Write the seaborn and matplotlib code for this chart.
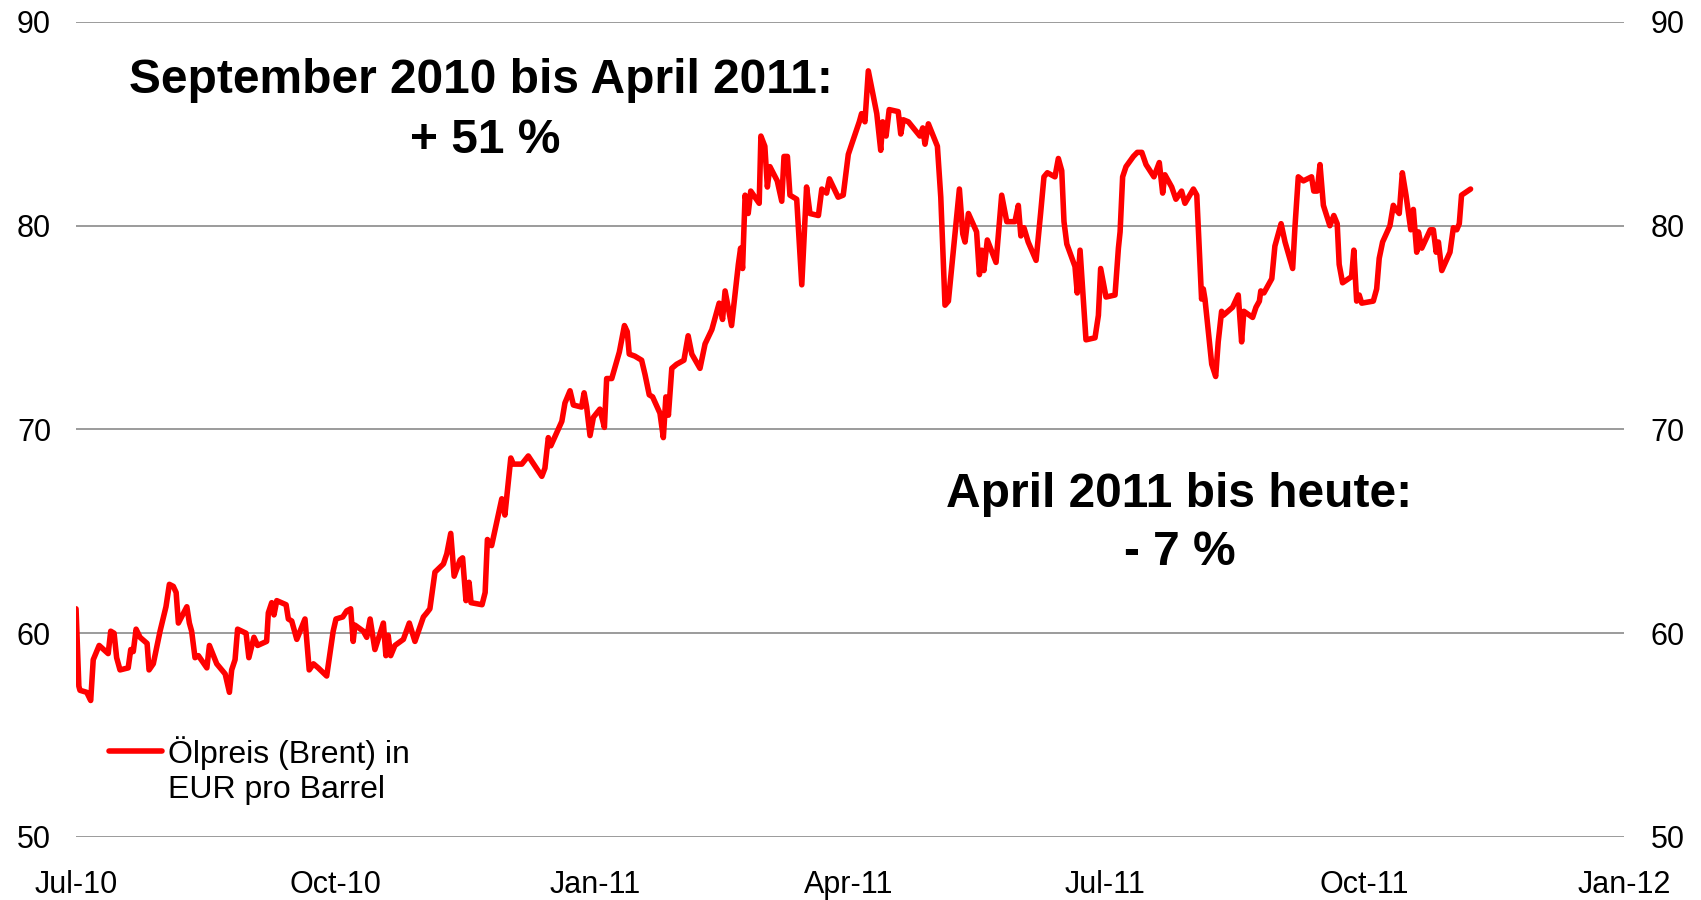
import pandas as pd
import matplotlib
matplotlib.use('Agg')
import matplotlib.pyplot as plt
import matplotlib.dates as mdates
import seaborn as sns

# Brent in EUR: Tage seit 1. Juli 2010 und Preis
tage = [0, 1.0, 1.4, 3.8, 5.2, 6.1, 8.2, 11.4, 12.3, 13.5, 14.4, 15.6, 18.5, 19.4, 20.3,
        21.3, 22.7, 25.2, 25.9, 27.4, 29.8, 31.9, 33.1, 34.5, 35.5, 36.3, 39.3, 40.2, 41.0,
        42.2, 43.4, 46.4, 47.3, 49.9, 52.9, 54.4, 55.2, 56.4, 57.3, 60.3, 61.3, 63.1, 64.4,
        67.6, 68.2, 69.4, 70.2, 71.2, 74.5, 75.3, 76.5, 78.3, 81.2, 82.7, 84.2, 85.9, 88.9,
        91.2, 92.2, 94.6, 96.0, 97.4, 98.3, 98.9, 101.9, 103.1, 104.3, 106.0, 109.0, 109.9,
        110.7, 111.6, 113.1, 116.1, 118.2, 120.2, 123.2, 124.4, 125.5, 127.3, 130.3, 131.5,
        132.9, 134.1, 136.2, 137.1, 138.3, 139.4, 140.1, 144.0, 145.1, 145.9, 147.4, 151.0,
        152.1, 154.2, 155.1, 158.1, 160.4, 165.2, 166.3, 167.5, 168.4, 172.3, 173.4, 175.2,
        176.4, 179.3, 180.2, 181.1, 182.3, 183.5, 185.8, 187.4, 188.2, 190.0, 192.7, 194.5,
        195.5, 196.2, 198.2, 200.6, 201.8, 203.3, 204.5, 207.1, 208.3, 209.2, 210.1, 211.3,
        213.0, 215.6, 217.1, 218.4, 221.3, 223.1, 225.5, 228.1, 229.3, 230.2, 232.5, 234.9,
        235.7, 236.4, 237.3, 238.4, 239.3, 242.3, 242.9, 244.3, 245.2, 246.1, 248.7, 250.3,
        251.1, 252.3, 253.2, 255.6, 257.4, 259.1, 260.3, 263.3, 264.5, 266.2, 267.2, 270.3,
        272.1, 273.9, 275.1, 277.8, 278.6, 279.8, 281.0, 284.0, 285.4, 286.1, 287.3, 288.4,
        291.6, 292.5, 293.4, 295.2, 299.3, 300.3, 301.1, 302.3, 305.5, 306.7, 308.2, 309.4,
        313.3, 314.5, 315.3, 316.5, 319.4, 320.4, 321.2, 322.0, 323.2, 326.3, 328.3, 330.1,
        333.0, 334.2, 335.1, 336.2, 337.7, 340.5, 342.1, 343.3, 344.5, 347.2, 348.4, 349.6,
        350.4, 351.4, 354.3, 355.1, 356.1, 358.2, 361.4, 362.6, 363.4, 365.3, 368.5, 369.7,
        370.3, 371.2, 372.4, 375.0, 376.4, 378.0, 379.5, 382.3, 384.2, 385.4, 386.2, 388.6,
        390.1, 392.1, 393.3, 396.3, 397.5, 399.2, 399.8, 400.4, 402.8, 404.2, 405.1, 406.3,
        406.9, 410.2, 412.2, 413.4, 414.2, 417.3, 418.5, 419.7, 420.2, 421.3, 424.1, 425.2,
        427.4, 428.8, 431.5, 432.3, 433.5, 435.3, 438.2, 439.0, 440.2, 441.2, 442.4, 444.7,
        446.1, 447.3, 448.0, 449.2, 452.4, 453.2, 454.2, 455.1, 456.0, 460.1, 461.3, 462.2,
        463.4, 466.0, 467.2, 468.1, 469.3, 470.4, 471.7, 473.4, 474.3, 475.5, 476.1, 477.3,
        480.3, 481.4, 482.4, 483.2, 484.4, 487.3, 488.5, 489.7, 490.6, 491.4, 494.6]

preis = [61.2, 57.4, 57.2, 57.1, 56.7, 58.7, 59.4, 59.0, 60.1, 60.0, 58.8, 58.2, 58.3, 59.2, 59.1,
         60.2, 59.8, 59.5, 58.2, 58.5, 60.1, 61.3, 62.4, 62.3, 62.0, 60.5, 61.3, 60.5, 60.1,
         58.8, 58.9, 58.3, 59.4, 58.5, 58.0, 57.1, 58.2, 58.7, 60.2, 60.0, 58.8, 59.8, 59.4,
         59.6, 61.0, 61.5, 60.9, 61.6, 61.4, 60.7, 60.6, 59.7, 60.7, 58.2, 58.5, 58.3, 57.9,
         60.1, 60.7, 60.8, 61.1, 61.2, 59.6, 60.4, 60.1, 59.8, 60.7, 59.2, 60.5, 58.9,
         59.9, 58.9, 59.4, 59.7, 60.5, 59.6, 60.8, 61.0, 61.2, 63.0, 63.4, 63.9,
         64.9, 62.8, 63.6, 63.7, 61.6, 62.5, 61.5, 61.4, 62.0, 64.6, 64.3, 66.6,
         65.8, 68.6, 68.3, 68.3, 68.7, 67.7, 68.1, 69.6, 69.2, 70.4, 71.3, 71.9,
         71.2, 71.1, 71.8, 71.1, 69.7, 70.6, 71.0, 70.1, 72.5, 72.5, 73.8, 75.1,
         74.8, 73.7, 73.6, 73.4, 72.7, 71.7, 71.6, 70.8, 69.6, 71.6, 70.7, 73.0,
         73.2, 73.4, 74.6, 73.7, 73.0, 74.2, 74.9, 76.2, 75.4, 76.8, 75.1, 78.1,
         78.9, 77.9, 81.5, 80.6, 81.7, 81.1, 84.4, 83.9, 81.9, 82.9, 82.2, 81.2,
         83.4, 83.4, 81.5, 81.3, 77.1, 81.9, 80.6, 80.5, 81.8, 81.6, 82.3, 81.4,
         81.5, 83.5, 84.0, 85.1, 85.5, 85.1, 87.6, 85.5, 83.7, 85.1, 84.4, 85.7,
         85.6, 84.5, 85.2, 85.1, 84.4, 84.8, 84.0, 85.0, 83.9, 81.4, 76.1, 76.3,
         81.8, 79.6, 79.2, 80.6, 79.7, 77.6, 78.8, 77.8, 79.3, 78.2, 81.5, 80.2,
         80.2, 81.0, 79.5, 79.9, 79.2, 78.3, 80.6, 82.4, 82.6, 82.4, 83.3, 82.7,
         80.2, 79.1, 78.0, 76.7, 78.8, 74.4, 74.5, 75.6, 77.9, 76.5, 76.6, 78.9,
         79.7, 82.4, 82.9, 83.4, 83.6, 83.6, 83.0, 82.4, 83.1, 81.6, 82.5, 81.9,
         81.3, 81.7, 81.1, 81.8, 81.5, 76.4, 76.9, 76.4, 73.2, 72.6, 74.3, 75.8,
         75.6, 76.0, 76.6, 74.3, 75.8, 75.5, 76.0, 76.3, 76.8, 76.7, 77.4, 79.0,
         80.1, 79.2, 77.9, 79.9, 82.4, 82.2, 82.4, 81.7, 81.7, 83.0, 81.0, 80.0,
         80.5, 80.1, 78.1, 77.2, 77.5, 78.8, 76.3, 76.6, 76.2, 76.3, 76.9, 78.4,
         79.2, 80.0, 81.0, 80.8, 80.6, 82.6, 81.5, 79.8, 80.8, 78.7, 79.7, 78.9,
         79.8, 79.8, 78.7, 79.2, 77.8, 78.7, 79.9, 79.8, 80.1, 81.5, 81.8]

y_ticks = [50, 60, 70, 80, 90]
x_ticks = ['2010-07-01', '2010-10-01', '2011-01-01', '2011-04-01',
           '2011-07-01', '2011-10-01', '2012-01-01']
label = 'Ölpreis (Brent) in\nEUR pro Barrel'
text_links = ['September 2010 bis April 2011:', '+ 51 %']
text_rechts = ['April 2011 bis heute:', '- 7 %']

df = pd.DataFrame({
    'datum': pd.Timestamp('2010-07-01') + pd.to_timedelta(tage, unit='D'),
    'preis': preis,
})

sns.set_theme(style='white')
plt.rcParams['font.family'] = ['Liberation Sans', 'DejaVu Sans']
plt.rcParams['text.color'] = 'black'
plt.rcParams['xtick.color'] = 'black'
plt.rcParams['ytick.color'] = 'black'

fig, ax = plt.subplots(figsize=(17.01, 9), dpi=100)
fig.subplots_adjust(left=0.0447, right=0.9547, top=0.9756, bottom=0.07)

sns.lineplot(data=df, x='datum', y='preis', color='#ff0000', linewidth=4.0,
             label=label, ax=ax, solid_joinstyle='round')

ax.set_xlim(pd.Timestamp(x_ticks[0]), pd.Timestamp(x_ticks[-1]))
ax.set_ylim(y_ticks[0], y_ticks[-1])
ax.set_xticks(pd.to_datetime(x_ticks))
ax.xaxis.set_major_formatter(mdates.DateFormatter('%b-%y'))
ax.set_yticks(y_ticks)
ax.set_xlabel('')
ax.set_ylabel('')
ax.grid(axis='y', color='#808080', linewidth=1.1)
ax.set_axisbelow(True)
for s in ax.spines.values():
    s.set_visible(False)
ax.tick_params(axis='x', length=0, pad=24, labelsize=22)
ax.tick_params(axis='y', length=0, pad=18, labelsize=22)

# zweite Achse rechts
ax2 = ax.twinx()
ax2.set_ylim(y_ticks[0], y_ticks[-1])
ax2.set_yticks(y_ticks)
ax2.tick_params(axis='y', length=0, pad=19, labelsize=22)
for s in ax2.spines.values():
    s.set_visible(False)

leg = ax.legend(loc='upper left', bbox_to_anchor=(0.013, 0.14), frameon=False,
                fontsize=23, handlelength=1.65, handletextpad=0.2, borderaxespad=0)
leg.get_texts()[0].set_linespacing(1.25)
# Linie auf Höhe der ersten Textzeile
h = leg.get_lines()[0]
h.set_ydata([y + 14 for y in h.get_ydata()])

# Kommentare
kw = dict(ha='center', va='baseline', fontsize=34.5, fontweight='bold', color='black')
fig.text(0.2828, 0.8967, text_links[0], **kw)
fig.text(0.2850, 0.830, text_links[1], **kw)
fig.text(0.6931, 0.4367, text_rechts[0], **kw)
fig.text(0.6937, 0.3722, text_rechts[1], **kw)

fig.savefig('out.png', dpi=100, facecolor='white')
